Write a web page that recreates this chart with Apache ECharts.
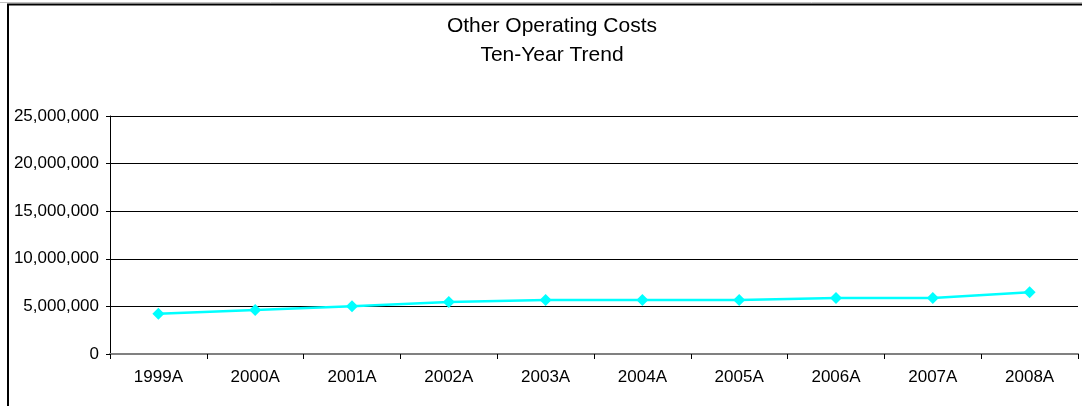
<!DOCTYPE html>
<html>
<head>
<meta charset="utf-8">
<script src="https://cdn.jsdelivr.net/npm/echarts@6/dist/echarts.min.js"></script>
<style>
html,body{margin:0;padding:0;background:#fff;}
#c{width:1082px;height:406px;}
</style>
</head>
<body>
<div id="c"></div>
<script>
var categories = ['1999A','2000A','2001A','2002A','2003A','2004A','2005A','2006A','2007A','2008A'];
var costs = [4230000, 4620000, 5020000, 5460000, 5670000, 5670000, 5670000, 5880000, 5880000, 6480000];
var titleLines = ['Other Operating Costs', 'Ten-Year Trend'];

var chart = echarts.init(document.getElementById('c'), null, {renderer: 'canvas'});
var font = '"Liberation Sans", Arial, sans-serif';
chart.setOption({
  animation: false,
  backgroundColor: '#fff',
  title: {
    text: titleLines.join('\n'),
    left: 547,
    textAlign: 'center',
    top: 7,
    textStyle: {fontFamily: font, fontSize: 21, fontWeight: 'normal', color: '#000', lineHeight: 29}
  },
  graphic: [
    {type: 'line', shape: {x1: 0, y1: 2.5, x2: 1082, y2: 2.5}, style: {stroke: '#c0c0c0', lineWidth: 1}},
    {type: 'line', shape: {x1: 7, y1: 4.5, x2: 1082, y2: 4.5}, style: {stroke: '#000', lineWidth: 2}},
    {type: 'line', shape: {x1: 8, y1: 4, x2: 8, y2: 406}, style: {stroke: '#000', lineWidth: 2}}
  ],
  grid: {left: 110, right: 4, top: 116, bottom: 52, containLabel: false},
  xAxis: {
    type: 'category',
    data: categories,
    boundaryGap: true,
    axisLine: {lineStyle: {color: '#808080', width: 2}},
    axisTick: {show: true, alignWithLabel: false, length: 5, lineStyle: {color: '#000'}},
    axisLabel: {fontFamily: font, fontSize: 17, color: '#000', margin: 15}
  },
  yAxis: {
    type: 'value',
    min: 0, max: 25000000, interval: 5000000,
    axisLine: {show: true, lineStyle: {color: '#000', width: 1}},
    axisTick: {show: true, length: 4, lineStyle: {color: '#000'}},
    splitLine: {show: true, lineStyle: {color: '#000', width: 1}},
    axisLabel: {
      fontFamily: font, fontSize: 17, color: '#000', margin: 11,
      formatter: function (v) { return v.toLocaleString('en-US'); }
    }
  },
  series: [{
    type: 'line',
    data: costs,
    symbol: 'diamond',
    symbolSize: 12,
    lineStyle: {color: '#00ffff', width: 2.5},
    itemStyle: {color: '#00ffff'}
  }]
});
</script>
</body>
</html>
